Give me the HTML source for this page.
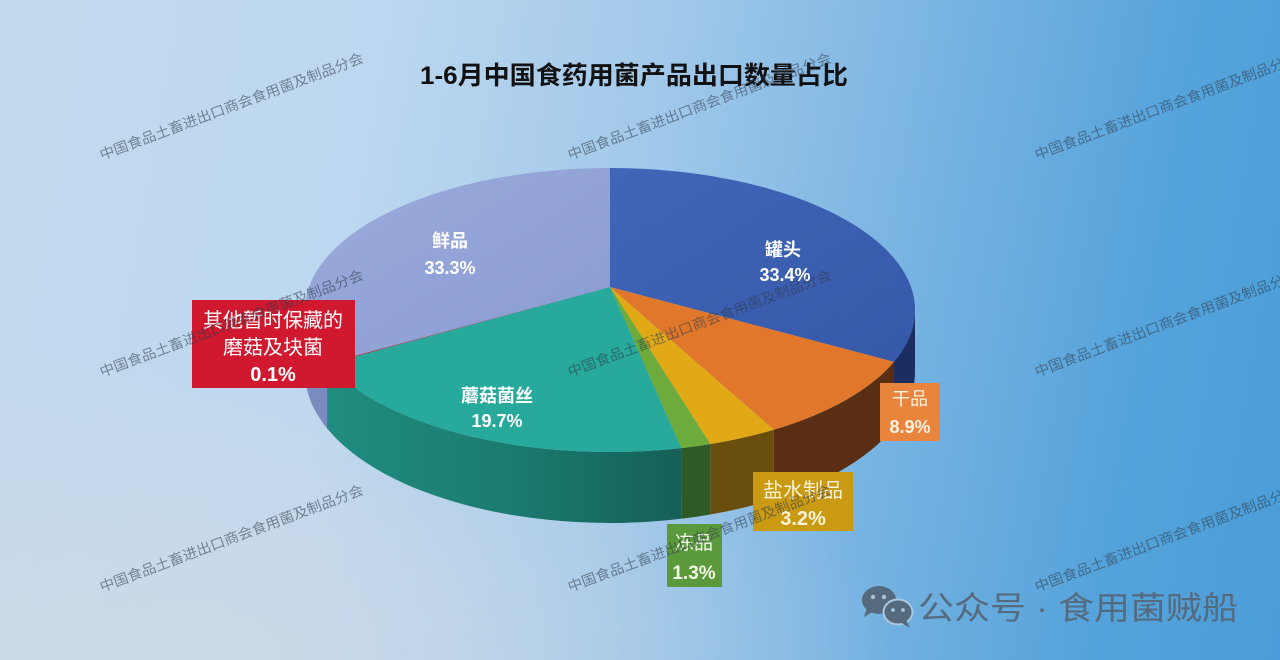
<!DOCTYPE html>
<html>
<head>
<meta charset="utf-8">
<style>
  html,body{margin:0;padding:0;}
  body{width:1280px;height:660px;overflow:hidden;position:relative;
    background:
      radial-gradient(ellipse 700px 320px at 15% 100%, rgba(208,218,230,0.85), rgba(208,218,230,0) 100%),
      linear-gradient(100deg, #c3daee 0%, #bcd7ef 28%, #a2c9ea 48%, #79b4e2 68%, #55a3db 86%, #4a9dd8 100%);
  }
  svg{position:absolute;left:0;top:0;}
  .cjk{font-family:"Liberation Sans","Noto Sans CJK SC",sans-serif;}
</style>
</head>
<body>
<svg width="1280" height="660" viewBox="0 0 1280 660" xmlns="http://www.w3.org/2000/svg">
  <defs>
    <linearGradient id="teal" x1="0" y1="0" x2="1" y2="0">
      <stop offset="0" stop-color="#208c7f"/>
      <stop offset="0.5" stop-color="#1b7c71"/>
      <stop offset="1" stop-color="#155f57"/>
    </linearGradient>
    <linearGradient id="lav" x1="0" y1="0" x2="1" y2="1">
      <stop offset="0" stop-color="#9babdc"/>
      <stop offset="1" stop-color="#8a9bd2"/>
    </linearGradient>
    <linearGradient id="blue" x1="0" y1="0" x2="1" y2="1">
      <stop offset="0" stop-color="#4166b8"/>
      <stop offset="1" stop-color="#3658a9"/>
    </linearGradient>
  </defs>

  <!-- Title -->
  <text x="420" y="84" textLength="428" lengthAdjust="spacingAndGlyphs" class="cjk" font-size="25" font-weight="bold" fill="#111">1-6月中国食药用菌产品出口数量占比</text>

  <!-- Pie sides -->
  <path d="M915,310 A305,142 0 0 1 894,361.8 L894,427.1 A305,151 0 0 0 915,372 Z" fill="#1c2d62"/>
  <path d="M894,361.8 A305,142 0 0 1 773.8,429.7 L773.8,499.3 A305,151 0 0 0 894,427.1 Z" fill="#5a2e12"/>
  <path d="M773.8,429.7 A305,142 0 0 1 710.3,444.1 L710.3,514.5 A305,151 0 0 0 773.8,499.3 Z" fill="#6a4e0e"/>
  <path d="M710.3,444.1 A305,142 0 0 1 681.2,448.1 L681.2,518.8 A305,151 0 0 0 710.3,514.5 Z" fill="#2e5a26"/>
  <path d="M681.2,448.1 A305,142 0 0 1 327.8,363.9 L327.8,429.3 A305,151 0 0 0 681.2,518.8 Z" fill="url(#teal)"/>
  <path d="M327.8,363.9 A305,142 0 0 1 327.2,363.2 L327.2,428.6 A305,151 0 0 0 327.8,429.3 Z" fill="#8a1020"/>
  <path d="M327.2,363.2 A305,142 0 0 1 305,310 L305,372 A305,151 0 0 0 327.2,428.6 Z" fill="#7a8bc0"/>

  <!-- Pie top faces -->
  <path d="M610,287 L610,168 A305,142 0 0 1 894,361.8 Z" fill="url(#blue)"/>
  <path d="M610,287 L894,361.8 A305,142 0 0 1 773.8,429.7 Z" fill="#e1772b"/>
  <path d="M610,287 L773.8,429.7 A305,142 0 0 1 710.3,444.1 Z" fill="#e2a916"/>
  <path d="M610,287 L710.3,444.1 A305,142 0 0 1 681.2,448.1 Z" fill="#6cab3c"/>
  <path d="M610,287 L681.2,448.1 A305,142 0 0 1 327.8,363.9 Z" fill="#27a99b"/>
  <path d="M610,287 L327.8,363.9 A305,142 0 0 1 327.2,363.2 Z" fill="#d0182e"/>
  <path d="M610,287 L327.2,363.2 A305,142 0 0 1 610,168 Z" fill="url(#lav)"/>

  <!-- In-slice labels -->
  <g class="cjk" font-weight="bold" fill="#ffffff" text-anchor="middle" font-size="18">
    <text x="450" y="247">鲜品</text>
    <text x="450" y="274">33.3%</text>
    <text x="783" y="256">罐头</text>
    <text x="785" y="281">33.4%</text>
    <text x="497" y="402">蘑菇菌丝</text>
    <text x="497" y="427">19.7%</text>
  </g>

  <!-- Callout boxes -->
  <rect x="192" y="300" width="163" height="88" fill="#d0182e"/>
  <g class="cjk" fill="#ffffff" text-anchor="middle" font-size="20">
    <text x="273" y="327">其他暂时保藏的</text>
    <text x="273" y="354">磨菇及块菌</text>
    <text x="273" y="381" font-weight="bold">0.1%</text>
  </g>

  <rect x="880" y="383" width="60" height="58" fill="#e8843c"/>
  <g class="cjk" fill="#fdf1e2" text-anchor="middle" font-size="18">
    <text x="910" y="405">干品</text>
    <text x="910" y="433" font-weight="bold">8.9%</text>
  </g>

  <rect x="753" y="472" width="100" height="59" fill="#c99a12"/>
  <g class="cjk" fill="#fbf3d8" text-anchor="middle" font-size="20">
    <text x="803" y="497">盐水制品</text>
    <text x="803" y="525" font-weight="bold">3.2%</text>
  </g>

  <rect x="667" y="524" width="55" height="63" fill="#5b9a3c"/>
  <g class="cjk" fill="#f2f6e6" text-anchor="middle" font-size="19">
    <text x="694" y="549">冻品</text>
    <text x="694" y="579" font-weight="bold">1.3%</text>
  </g>

  <!-- Watermarks -->
  <g class="cjk" font-size="14" fill="#2e3a48" fill-opacity="0.55">
    <text x="102" y="160" textLength="280" lengthAdjust="spacingAndGlyphs" transform="rotate(-20.5 102 160)">中国食品土畜进出口商会食用菌及制品分会</text>
    <text x="570" y="160" textLength="280" lengthAdjust="spacingAndGlyphs" transform="rotate(-20.5 570 160)">中国食品土畜进出口商会食用菌及制品分会</text>
    <text x="1037" y="160" textLength="280" lengthAdjust="spacingAndGlyphs" transform="rotate(-20.5 1037 160)">中国食品土畜进出口商会食用菌及制品分会</text>
    <text x="102" y="377" textLength="280" lengthAdjust="spacingAndGlyphs" transform="rotate(-20.5 102 377)">中国食品土畜进出口商会食用菌及制品分会</text>
    <text x="570" y="377" textLength="280" lengthAdjust="spacingAndGlyphs" transform="rotate(-20.5 570 377)">中国食品土畜进出口商会食用菌及制品分会</text>
    <text x="1037" y="377" textLength="280" lengthAdjust="spacingAndGlyphs" transform="rotate(-20.5 1037 377)">中国食品土畜进出口商会食用菌及制品分会</text>
    <text x="102" y="592" textLength="280" lengthAdjust="spacingAndGlyphs" transform="rotate(-20.5 102 592)">中国食品土畜进出口商会食用菌及制品分会</text>
    <text x="570" y="592" textLength="280" lengthAdjust="spacingAndGlyphs" transform="rotate(-20.5 570 592)">中国食品土畜进出口商会食用菌及制品分会</text>
    <text x="1037" y="592" textLength="280" lengthAdjust="spacingAndGlyphs" transform="rotate(-20.5 1037 592)">中国食品土畜进出口商会食用菌及制品分会</text>
  </g>

  <!-- WeChat footer -->
  <g fill="#566a7d">
    <ellipse cx="879" cy="600" rx="17" ry="14"/>
    <path d="M867,608 L864,617 L874,611 Z"/>
    <ellipse cx="898" cy="612" rx="15.5" ry="13.5" fill="#a9c8e2"/>
    <ellipse cx="898" cy="612" rx="13.5" ry="11.5"/>
    <path d="M906,620 L910,628 L900,622 Z"/>
  </g>
  <g fill="#a9c4de">
    <circle cx="873" cy="597" r="2.2"/>
    <circle cx="884" cy="597" r="2.2"/>
    <circle cx="893" cy="610" r="1.9"/>
    <circle cx="903" cy="610" r="1.9"/>
  </g>
  <text x="918" y="619" textLength="320" lengthAdjust="spacingAndGlyphs" class="cjk" font-size="32" fill="#566a7d">公众号 · 食用菌贼船</text>
</svg>
</body>
</html>
